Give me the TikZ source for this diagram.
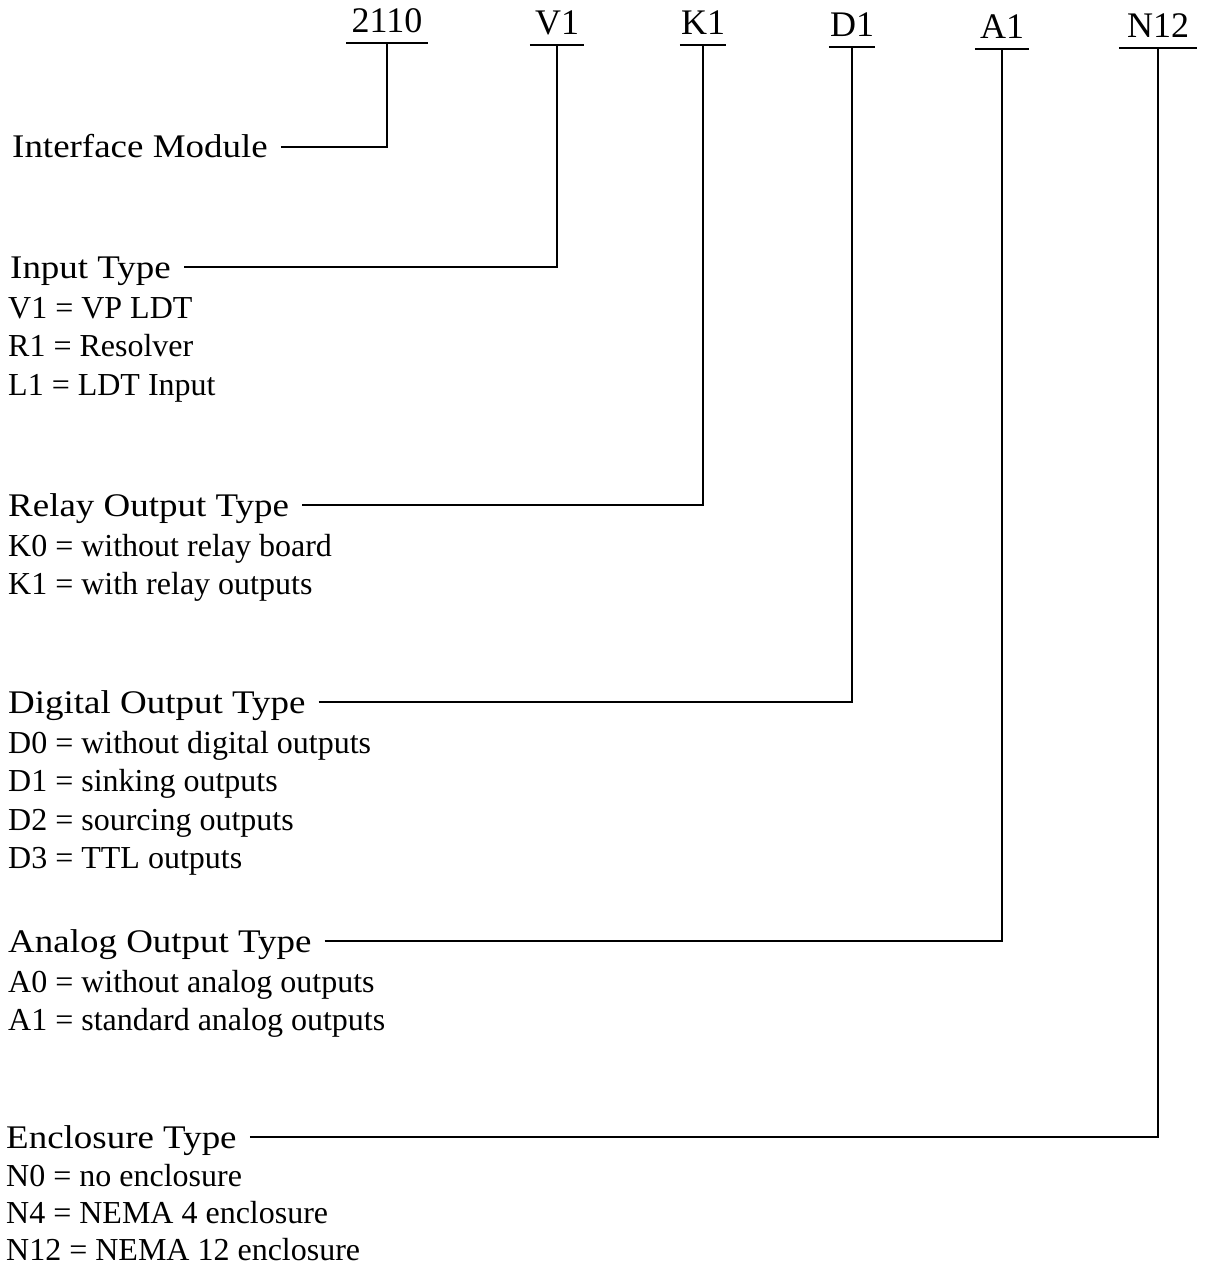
\documentclass[tikz,border=0pt]{standalone}
\usepackage{fontspec}
\setmainfont{Liberation Serif}
\newfontfamily\headfont[FakeStretch=1.12]{Liberation Serif}
\usetikzlibrary{positioning}

\begin{document}
\begin{tikzpicture}[x=1pt, y=-1pt,
  code/.style={font=\fontsize{36}{40}\selectfont, anchor=base, inner ysep=0pt, inner xsep=5pt, text depth=10pt},
  head/.style={font=\headfont\fontsize{33}{40}\selectfont, anchor=base west, inner sep=0pt, text height=22pt, text depth=0pt},
  item/.style={font=\fontsize{32}{38}\selectfont, anchor=base west, inner sep=0pt},
  rule/.style={line width=2.2pt}]
\useasboundingbox (0,0) rectangle (1209,1268);
% model code fields
\node[code] (c2110) at (387,33) {2110};
\node[code] (cV1) at (557,35) {V1};
\node[code, inner xsep=1pt] (cK1) at (703,35) {K1};
\node[code, inner xsep=1pt] (cD1) at (852,37) {D1};
\node[code] (cA1) at (1002,39) {A1};
\node[code, inner xsep=8pt] (cN12) at (1158,38) {N12};
\foreach \c in {c2110, cV1, cK1, cD1, cA1, cN12}
  \draw[rule] (\c.south west) -- (\c.south east);
% field headings
\node[head] (hMod) at (12,158) {Interface Module};
\node[head] (hIn) at (10,278) {Input Type};
\node[head] (hRel) at (8,516) {Relay Output Type};
\node[head] (hDig) at (8,713) {Digital Output Type};
\node[head] (hAna) at (8,952) {Analog Output Type};
\node[head] (hEnc) at (6,1148) {Enclosure Type};
% options
\foreach \txt [count=\i] in {V1 = VP LDT, R1 = Resolver, L1 = LDT Input}
  \node[item] (in\i) at (8, 318+38.5*\i-38.5) {\txt};
\foreach \txt [count=\i] in {K0 = without relay board, K1 = with relay outputs}
  \node[item] (rel\i) at (8, 556+38.5*\i-38.5) {\txt};
\foreach \txt [count=\i] in {D0 = without digital outputs, D1 = sinking outputs, D2 = sourcing outputs, D3 = TTL outputs}
  \node[item] (dig\i) at (8, 753+38.5*\i-38.5) {\txt};
\foreach \txt [count=\i] in {A0 = without analog outputs, A1 = standard analog outputs}
  \node[item] (ana\i) at (8, 992+38.5*\i-38.5) {\txt};
\foreach \txt [count=\i] in {N0 = no enclosure, N4 = NEMA 4 enclosure, N12 = NEMA 12 enclosure}
  \node[item] (enc\i) at (6, 1186+37*\i-37) {\txt};
% leaders
\foreach \h/\c in {hMod/c2110, hIn/cV1, hRel/cK1, hDig/cD1, hAna/cA1, hEnc/cN12}
  \draw[rule] ([xshift=13pt]\h.east) -| (\c.south);
\end{tikzpicture}
\end{document}
